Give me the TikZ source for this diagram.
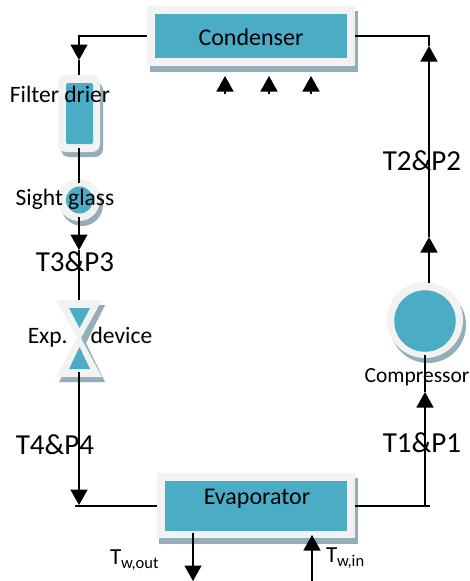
\documentclass[tikz,border=0pt]{standalone}
\usepackage{fontspec}
\setmainfont{Carlito}
\usetikzlibrary{arrows.meta,shapes.geometric}
\definecolor{tealfill}{HTML}{4BACC6}
\definecolor{paleframe}{HTML}{F2F2F2}
\definecolor{shadowcol}{HTML}{93AEB8}
\tikzset{
  x=1pt,y=-1pt,
  every node/.style={inner sep=0pt,outer sep=0pt},
  boxinner/.style={fill=tealfill},
  shade box/.style={fill=shadowcol},
  flow/.style={line width=1.5pt,black},
  head/.style={flow,-{Triangle[length=15.5pt,width=17pt]}},
  big/.style={font=\fontsize{29}{29}\selectfont},
  mid/.style={font=\fontsize{24}{24}\selectfont},
  small/.style={font=\fontsize{23.5}{24}\selectfont},
  comptext/.style={font=\fontsize{21.5}{22}\selectfont},
  wlabel/.style={font=\fontsize{23}{23}\selectfont},
}
\newcommand{\wsub}[1]{\raisebox{-3.5pt}{\fontsize{16.5}{17}\selectfont #1}}
\begin{document}
\begin{tikzpicture}
\useasboundingbox (0,0) rectangle (470,581);
\fill[white] (0,0) rectangle (470,581);
% Condenser
\fill[shade box] (150,11) rectangle (358,72);
\fill[paleframe] (147,6) rectangle (355,66);
\node[boxinner,minimum width=192pt,minimum height=44pt] (cond) at (251,36) {};
\node[mid] at (251,37) {Condenser};
% Filter drier
\fill[shade box,rounded corners=8pt] (61,82) rectangle (103,157);
\fill[paleframe,rounded corners=8pt] (58,75) rectangle (100,152);
\node[boxinner,rounded corners=1.5pt,minimum width=27pt,minimum height=61pt] (filter) at (79.5,113.5) {};
% Sight glass
\fill[shade box] (82,205) circle (21);
\fill[paleframe] (79,200) circle (21);
\node[boxinner,circle,minimum size=27pt] (sight) at (79.5,200) {};
% Expansion device
\fill[shade box] (62,305) -- (105,305) -- (86,343) -- (105,382) -- (59,382) -- (80,343) -- cycle;
\fill[paleframe] (56,300) -- (102,300) -- (81,338) -- (102,377) -- (56,377) -- (77,338) -- cycle;
\fill[tealfill] (69,308) -- (90,308) -- (79.5,328) -- cycle;
\fill[tealfill] (69,369) -- (90,369) -- (79.5,347) -- cycle;
\coordinate (exptop) at (79,300);
\coordinate (expbot) at (79,372);
% Compressor
\fill[shade box] (428,325) circle (38);
\fill[paleframe] (425,320) circle (38);
\node[boxinner,circle,minimum size=61.5pt] (comp) at (425,321) {};
% Evaporator
\fill[shade box] (159,478) rectangle (358,544);
\fill[paleframe] (157,473) rectangle (355,538);
\node[boxinner,minimum width=182pt,minimum height=50pt] (evap) at (256,506) {};
% Connector anchors
\coordinate (condL) at (147,36);
\coordinate (condR) at (355,36);
\coordinate (cornerTL) at (79,36);
\coordinate (tipA) at (79,60);
\coordinate (filterTop) at (79,75);
\coordinate (filterBot) at (79,148);
\coordinate (sightTop) at (79,183);
\coordinate (sightBot) at (79,217);
\coordinate (tipB) at (79,250);
\coordinate (tipC) at (79,505);
\coordinate (junctL) at (75,506);
\coordinate (evapL) at (157,506);
\coordinate (evapR) at (355,506);
\coordinate (junctR) at (430,506);
\coordinate (evapUp) at (425,506);
\coordinate (tipD) at (425,392);
\coordinate (compBot) at (425,355);
\coordinate (compTop) at (429,283);
\coordinate (tipE) at (429,237);
\coordinate (tipF) at (429,46);
\coordinate (cornerTR) at (429,36);
\coordinate (a1s) at (225,94); \coordinate (a1t) at (225,76);
\coordinate (a2s) at (269,94); \coordinate (a2t) at (269,76);
\coordinate (a3s) at (311,94); \coordinate (a3t) at (311,76);
\coordinate (wos) at (193,533); \coordinate (wot) at (193,581);
\coordinate (wis) at (312,581); \coordinate (wit) at (312,535);
% Connectors
\draw[head] (condL) -- (cornerTL) -- (tipA);
\draw[flow] (tipA) -- (filterTop);
\draw[flow] (filterBot) -- (sightTop);
\draw[head] (sightBot) -- (tipB);
\draw[flow] (tipB) -- (exptop);
\draw[head,line width=2pt] (expbot) -- (tipC);
\draw[flow] (evapL) -- (junctL);
\draw[flow] (evapR) -- (junctR);
\draw[head] (evapUp) -- (tipD);
\draw[flow] (tipD) -- (compBot);
\draw[head] (compTop) -- (tipE);
\draw[head] (tipE) -- (tipF);
\draw[flow] (tipF) -- (cornerTR) -- (condR);
\draw[head] (a1s) -- (a1t);
\draw[head] (a2s) -- (a2t);
\draw[head] (a3s) -- (a3t);
\draw[head] (wos) -- (wot);
\draw[head] (wis) -- (wit);
% Labels
\node[small] (lf) at (60,94) {Filter drier};
\node[small] (ls) at (65,199) {Sight glass};
\node[big] (l3) at (75,262) {T3\&P3};
\node[small] (le) at (90,337) {Exp.\hspace{23pt}device};
\node[big] (l4) at (55,445) {T4\&P4};
\node[mid] (lv) at (257,498.5) {Evaporator};
\node[big] (l2) at (422,161) {T2\&P2};
\node[comptext] (lc) at (417,377) {Compressor};
\node[big] (l1) at (422,443) {T1\&P1};
\node[wlabel,anchor=west] (lo) at (110,560) {T\wsub{w,out}};
\node[wlabel,anchor=west] (li) at (326,558) {T\wsub{w,in}};
\end{tikzpicture}
\end{document}
